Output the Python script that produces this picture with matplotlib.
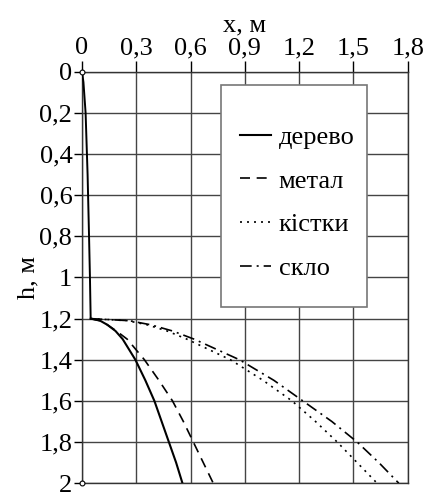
import numpy as np
import matplotlib
matplotlib.use("Agg")
import matplotlib.pyplot as plt
from matplotlib.patches import Rectangle

plt.rcParams['font.family'] = ['Liberation Serif', 'DejaVu Serif']

# ramp (common part of all trajectories)
ramp_h = [0.0, 0.05, 0.2, 0.5, 0.8, 1.0, 1.2]
ramp_x = [0.0, 0.008, 0.02, 0.031, 0.039, 0.044, 0.048]

# flight after leaving the ramp
h = [1.2, 1.21, 1.23, 1.26, 1.3, 1.4, 1.5, 1.6, 1.7, 1.8, 1.9, 2.0]
x_wood = [0.048, 0.10, 0.14, 0.185, 0.225, 0.295, 0.35, 0.40, 0.44, 0.48, 0.52, 0.555]
x_metal = [0.048, 0.10, 0.14, 0.19, 0.25, 0.345, 0.425, 0.50, 0.56, 0.615, 0.67, 0.725]
x_bone = [0.048, 0.25, 0.36, 0.47, 0.58, 0.82, 1.00, 1.16, 1.29, 1.41, 1.52, 1.63]
x_glass = [0.048, 0.26, 0.38, 0.50, 0.62, 0.87, 1.06, 1.22, 1.38, 1.52, 1.64, 1.75]

labels = ['дерево', 'метал', 'кістки', 'скло']

xticks = [0, 0.3, 0.6, 0.9, 1.2, 1.5, 1.8]
xtick_labels = ['0', '0,3', '0,6', '0,9', '1,2', '1,5', '1,8']
yticks = [0, 0.2, 0.4, 0.6, 0.8, 1.0, 1.2, 1.4, 1.6, 1.8, 2.0]
ytick_labels = ['0', '0,2', '0,4', '0,6', '0,8', '1', '1,2', '1,4', '1,6', '1,8', '2']

fig = plt.figure(figsize=(4.27, 4.92), dpi=100)
ax = fig.add_axes([0.192, 0.018, 0.763, 0.836])

fs = 19
ax.plot(ramp_x, ramp_h, color='black', lw=1.4, zorder=4)
l1, = ax.plot(x_wood, h, color='black', lw=1.5, ls='-', zorder=4)
l2, = ax.plot(x_metal, h, color='black', lw=1.2, ls=(0, (6, 4)), zorder=4)
l3, = ax.plot(x_bone, h, color='black', lw=1.2, ls=(0, (1.2, 3)), zorder=4)
l4, = ax.plot(x_glass, h, color='black', lw=1.2, ls=(0, (7, 3, 1.2, 3)), zorder=4)
ax.plot([0, 0], [0, 2], ls='none', marker='o', ms=3.5, mfc='white', mec='black',
        mew=0.8, clip_on=False, zorder=5)

ax.set_xlim(0, 1.8)
ax.set_ylim(2, 0)
ax.xaxis.tick_top()
ax.xaxis.set_label_position('top')
ax.set_xticks(xticks)
ax.set_xticklabels(xtick_labels)
ax.set_yticks(yticks)
ax.set_yticklabels(ytick_labels)
ax.tick_params(axis='x', direction='out', length=8, width=1, pad=1, labelsize=fs)
ax.tick_params(axis='y', direction='out', length=6, width=1, pad=1, labelsize=fs)
ax.grid(True, color='#444444', lw=1)
ax.set_axisbelow(True)
for s in ax.spines.values():
    s.set_color('#333333')
    s.set_linewidth(1)

ax.set_xlabel('x, м', fontsize=fs, labelpad=4)
ax.set_ylabel('h, м', fontsize=fs, labelpad=0)

# legend box (axes coords, y counted from the bottom)
ax.add_patch(Rectangle((0.426, 0.428), 0.448, 0.54, transform=ax.transAxes,
                       facecolor='white', edgecolor='#777777', lw=1.2, zorder=6,
                       clip_on=False))
leg = ax.legend([l1, l2, l3, l4], labels, loc='upper left',
                bbox_to_anchor=(0.486, 0.87), frameon=False, fontsize=fs,
                handlelength=1.15, handletextpad=0.3, labelspacing=0.77,
                borderpad=0, borderaxespad=0)
leg.set_zorder(7)

fig.savefig('out.png', dpi=100)
